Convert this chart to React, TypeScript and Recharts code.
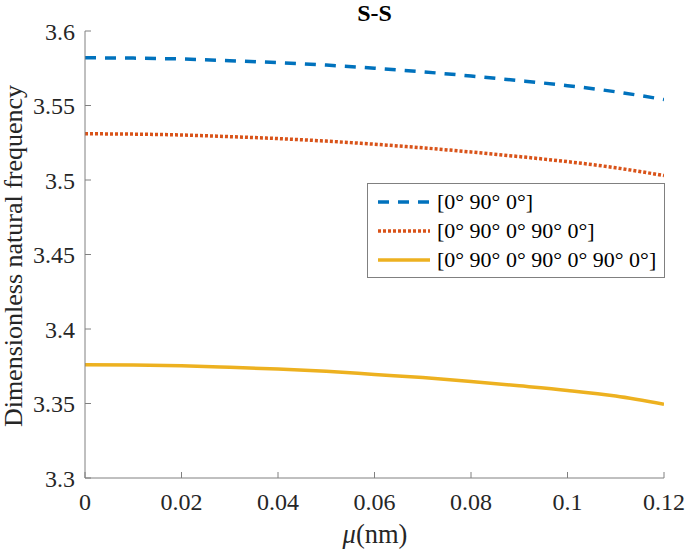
import React from "react";
import { LineChart, Line, XAxis, YAxis } from "recharts";

const mu = [0, 0.01, 0.02, 0.03, 0.04, 0.05, 0.06, 0.07, 0.08, 0.09, 0.1, 0.11, 0.12];
const freq3 = [3.582, 3.5818, 3.5812, 3.5801, 3.5788, 3.5771, 3.575, 3.5726, 3.5698, 3.5667, 3.5633, 3.5592, 3.554];
const freq5 = [3.531, 3.5308, 3.5302, 3.5291, 3.5278, 3.5261, 3.524, 3.5216, 3.5188, 3.5157, 3.5123, 3.5082, 3.503];
const freq7 = [3.376, 3.3758, 3.3753, 3.3743, 3.3731, 3.3716, 3.3695, 3.3674, 3.3648, 3.3619, 3.3588, 3.355, 3.3495];

const xTicks = [0, 0.02, 0.04, 0.06, 0.08, 0.1, 0.12];
const yTicks = [3.3, 3.35, 3.4, 3.45, 3.5, 3.55, 3.6];

const seriesNames = ["[0° 90° 0°]", "[0° 90° 0° 90° 0°]", "[0° 90° 0° 90° 0° 90° 0°]"];

const data = mu.map((m, i) => ({ mu: m, a: freq3[i], b: freq5[i], c: freq7[i] }));

const font = "Liberation Serif, Times New Roman, serif";
const axisColor = "#808080";
const tickStyle = { fill: "#262626", fontSize: 24, fontFamily: font };

const series = [
  { key: "a", color: "#0072BD", dash: "11 9" },
  { key: "b", color: "#D95319", dash: "3 2" },
  { key: "c", color: "#EDB120", dash: undefined },
];

const fmtY = (v: number) => (Math.abs(v * 100 - Math.round(v * 10) * 10) < 1e-6 ? v.toFixed(1) : v.toFixed(2));
const fmtX = (v: number) => (v === 0 ? "0" : String(Number(v.toFixed(2))));

function LegendBox() {
  return (
    <div
      style={{
        position: "absolute",
        left: 367,
        top: 183,
        width: 298,
        height: 95,
        border: `1.5px solid ${axisColor}`,
        background: "#fff",
        padding: "3px 6px 0 8px",
        fontFamily: font,
        fontSize: 22,
        color: "#000",
        boxSizing: "border-box",
        whiteSpace: "nowrap",
      }}
    >
      {series.map((s, i) => (
        <div key={s.key} style={{ display: "flex", alignItems: "center", height: 29 }}>
          <svg width={56} height={10} style={{ marginRight: 5 }}>
            <line x1={2} y1={5} x2={54} y2={5} stroke={s.color} strokeWidth={3.5} strokeDasharray={s.dash} />
          </svg>
          <span>{seriesNames[i]}</span>
        </div>
      ))}
    </div>
  );
}

export default function App() {
  return (
    <div style={{ position: "absolute", left: 0, top: 0, width: 685, height: 550, background: "#fff", fontFamily: font }}>
      <LineChart
        width={685}
        height={550}
        data={data}
        margin={{ top: 31, right: 21, bottom: 42, left: 35 }}
        style={{ fontFamily: font }}
      >
        <XAxis
          dataKey="mu"
          type="number"
          domain={[0, 0.12]}
          ticks={xTicks}
          tickFormatter={fmtX}
          tick={tickStyle}
          stroke={axisColor}
          tickSize={-6}
          tickMargin={21}
          height={30}
          allowDataOverflow
        />
        <XAxis
          xAxisId="top"
          dataKey="mu"
          type="number"
          orientation="top"
          domain={[0, 0.12]}
          ticks={xTicks}
          tick={() => <g />}
          stroke={axisColor}
          tickSize={-6}
          height={0}
        />
        <YAxis
          type="number"
          domain={[3.3, 3.6]}
          ticks={yTicks}
          tickFormatter={fmtY}
          tick={tickStyle}
          stroke={axisColor}
          tickSize={-6}
          tickMargin={16}
          width={50}
          allowDataOverflow
        />
        <YAxis
          yAxisId="right"
          orientation="right"
          type="number"
          domain={[3.3, 3.6]}
          ticks={yTicks}
          tick={() => <g />}
          stroke={axisColor}
          tickSize={-6}
          width={0}
        />
        {series.map((s) => (
          <Line
            key={s.key}
            dataKey={s.key}
            type="monotone"
            stroke={s.color}
            strokeWidth={3.5}
            strokeDasharray={s.dash}
            dot={false}
            isAnimationActive={false}
          />
        ))}
        <text x={374.5} y={21} textAnchor="middle" fontFamily={font} fontWeight="bold" fontSize={24} fill="#000">
          S-S
        </text>
        <text x={375} y={543} textAnchor="middle" fontFamily={font} fontSize={26.5} fill="#262626">
          <tspan fontStyle="italic">μ</tspan>(nm)
        </text>
        <text
          x={0}
          y={0}
          transform="translate(22 256) rotate(-90)"
          textAnchor="middle"
          fontFamily={font}
          fontSize={26}
          fill="#262626"
        >
          Dimensionless natural frequency
        </text>
      </LineChart>
      <LegendBox />
    </div>
  );
}
